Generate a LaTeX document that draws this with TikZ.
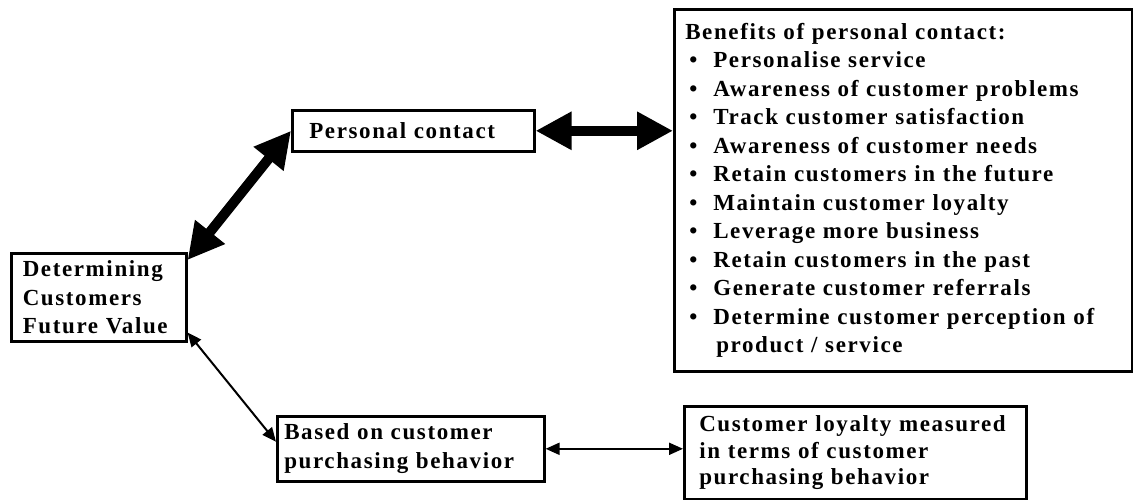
\documentclass[tikz,border=0pt]{standalone}
\usepackage{fontspec}
\setmainfont{Liberation Serif}[LetterSpace=7]
\usetikzlibrary{arrows.meta}

% bullet with its hanging space
\newcommand{\bul}{\hspace*{4pt}\makebox[24pt][l]{\textbullet}}

\begin{document}
\begin{tikzpicture}[x=1pt,y=-1pt,
    box/.style={draw, line width=2.6pt, anchor=north west, align=left,
        font={\bfseries\fontsize{23}{28.5}\selectfont}, inner ysep=0pt},
    bigarrow/.style={line width=10pt,
        {Triangle[length=36pt,width=36pt]}-{Triangle[length=36pt,width=36pt]}},
    thinarrow/.style={line width=2pt,
        {Triangle[length=14pt,width=12pt]}-{Triangle[length=14pt,width=12pt]}}]
    \useasboundingbox (0,0) rectangle (1133,500);

    \node[box, text width=152pt, inner xsep=11.5pt, minimum height=88pt] (det) at (10,252)
        {Determining\\Customers\\Future Value};
    \node[box, text width=208pt, inner xsep=17pt, minimum height=41pt] (pc) at (291,109)
        {Personal contact};
    \node[box, text width=436pt, inner xsep=11pt, minimum height=362pt] (benefits) at (673,8)
        {Benefits of personal contact:\\
         \bul Personalise service\\
         \bul Awareness of customer problems\\
         \bul Track customer satisfaction\\
         \bul Awareness of customer needs\\
         \bul Retain customers in the future\\
         \bul Maintain customer loyalty\\
         \bul Leverage more business\\
         \bul Retain customers in the past\\
         \bul Generate customer referrals\\
         \bul Determine customer perception of\\
         \hspace*{31pt}product / service};
    \node[box, text width=253pt, inner xsep=7pt, minimum height=65pt] (based) at (276,415)
        {Based on customer\\purchasing behavior};
    \node[box, text width=312pt, inner xsep=15pt, minimum height=93pt,
        font={\bfseries\fontsize{23}{26.5}\selectfont}] (loyalty) at (683,405)
        {Customer loyalty measured\\in terms of customer\\purchasing behavior};

    % connectors
    \draw[bigarrow] ([yshift=-8pt]det.north east) -- (pc.west);
    \draw[bigarrow] (pc.east) -- (pc.east -| benefits.west);
    \draw[thinarrow] ([yshift=10pt]det.south east) -- ([yshift=7pt]based.west);
    \draw[thinarrow] (based.east) -- (based.east -| loyalty.west);
\end{tikzpicture}
\end{document}
